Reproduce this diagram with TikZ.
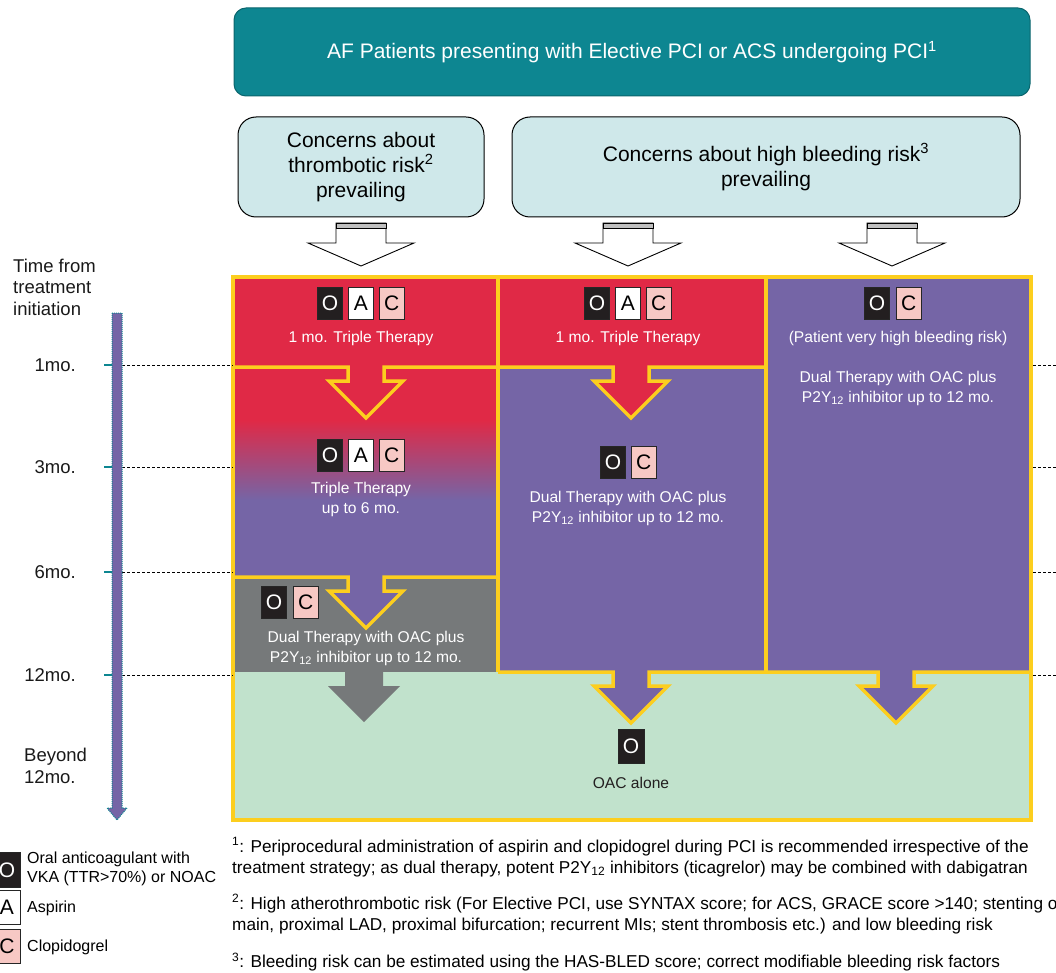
\documentclass[tikz,border=0pt]{standalone}
\usepackage{fontspec}
\setmainfont{Liberation Sans}
\usetikzlibrary{positioning}

\definecolor{afteal}{RGB}{13,134,145}
\definecolor{concernblue}{RGB}{207,232,234}
\definecolor{tripred}{RGB}{224,41,70}
\definecolor{dualpurple}{RGB}{117,101,166}
\definecolor{dualgray}{RGB}{118,121,122}
\definecolor{oacgreen}{RGB}{193,226,204}
\definecolor{frameyellow}{RGB}{252,206,30}
\definecolor{clopink}{RGB}{247,200,196}
\definecolor{oacblack}{RGB}{35,31,32}

\tikzset{%
  banner/.style = {rounded corners=12pt, draw=afteal!75!black, fill=afteal,
        line width=1pt, text=white, font=\fontsize{21}{25}\selectfont},
  concern/.style = {rounded corners=18pt, draw=black, fill=concernblue,
        line width=1pt, align=center, font=\fontsize{21}{25}\selectfont},
  drugbox/.style = {rectangle, draw=black!85, line width=0.8pt,
        minimum width=25pt, minimum height=32pt, inner sep=0pt,
        font=\fontsize{21}{21}\selectfont},
  oacbox/.style = {drugbox, fill=oacblack, text=white},
  aspbox/.style = {drugbox, fill=white, text=black},
  clobox/.style = {drugbox, fill=clopink, text=black},
  therapy/.style = {text=white, align=center, inner sep=0pt,
        font=\fontsize{15.6}{20}\selectfont},
  timetext/.style = {inner sep=0pt, text=black!90, font=\fontsize{18.5}{21.5}\selectfont},
  legendtext/.style = {inner sep=0pt, align=left, font=\fontsize{16}{18.5}\selectfont},
  foot/.style = {inner sep=0pt, align=left, font=\fontsize{17.2}{21}\selectfont},
  yline/.style = {draw=frameyellow, line width=3.5pt, line join=miter},
  guide/.style = {draw=black, line width=1pt, dash pattern=on 3pt off 2pt},
  hollow/.style = {draw=black, fill=white, line width=0.9pt}
}

% #1 y of line, #2 centre x, #3 left end, #4 right end, #5 colour of arrow
\newcommand{\yellownotch}[5]{%
  \fill[#5] (#2-18,#1-2) -- (#2-18,#1+14) -- (#2-37,#1+14) -- (#2,#1+51)
    -- (#2+37,#1+14) -- (#2+18,#1+14) -- (#2+18,#1-2) -- cycle;
  \draw[yline] (#3,#1) -- (#2-18,#1) -- (#2-18,#1+14) -- (#2-37,#1+14)
    -- (#2,#1+51) -- (#2+37,#1+14) -- (#2+18,#1+14) -- (#2+18,#1) -- (#4,#1);}

\begin{document}
\begin{tikzpicture}[x=1pt, y=-1pt]
\useasboundingbox (0,0) rectangle (1056,973);
\clip (0,0) rectangle (1056,973);

\node[banner, minimum width=796pt, minimum height=88pt] (head) at (632,52)
    {AF Patients presenting with Elective PCI or ACS undergoing PCI\textsuperscript{1}};
\node[concern, minimum width=246pt, minimum height=100pt] (thromb) at (361,167)
    {Concerns about\\thrombotic risk\textsuperscript{2}\\prevailing};
\node[concern, minimum width=508pt, minimum height=100pt] (bleed) at (766,167)
    {Concerns about high bleeding risk\textsuperscript{3}\\prevailing};

\foreach \cx in {361,628,892} {
  \draw[hollow] (\cx-25,223) -- (\cx+25,223) -- (\cx+25,243) -- (\cx+53,243)
      -- (\cx,266) -- (\cx-53,243) -- (\cx-25,243) -- cycle;
  \draw[hollow, fill=black!25] (\cx-25,223) rectangle (\cx+25,228);
}

% therapy blocks
\fill[tripred] (233,277) rectangle (498,420);
\shade[top color=tripred, bottom color=dualpurple] (233,420) rectangle (498,500);
\fill[dualpurple] (233,500) rectangle (498,577);
\fill[dualgray] (233,577) rectangle (498,672);
\fill[tripred] (498,277) rectangle (766,367);
\fill[dualpurple] (498,367) rectangle (766,672);
\fill[dualpurple] (766,277) rectangle (1031,672);
\fill[oacgreen] (233,672) rectangle (1031,820);

\yellownotch{367}{366}{233}{498}{tripred}
\yellownotch{577}{366}{233}{498}{dualpurple}
\yellownotch{367}{631}{498}{766}{tripred}
\fill[dualgray] (345,670) -- (345,686) -- (328,686) -- (364,722)
    -- (400,686) -- (383,686) -- (383,670) -- cycle;
\yellownotch{672}{631}{498}{766}{dualpurple}
\yellownotch{672}{896}{766}{1031}{dualpurple}
\draw[yline] (498,277) -- (498,672);
\draw[yline] (766,277) -- (766,672);
\draw[yline] (233,277) rectangle (1031,820);

% drugs and therapies
\node[oacbox] (o1) at (330,303) {O};
\node[aspbox, right=5pt of o1] (a1) {A};
\node[clobox, right=5pt of a1] (c1) {C};
\node[therapy] (tt1) at (361,338) {1 mo. Triple Therapy};

\node[oacbox] (o2) at (330,455) {O};
\node[aspbox, right=5pt of o2] (a2) {A};
\node[clobox, right=5pt of a2] (c2) {C};
\node[therapy] (tt2) at (361,499) {Triple Therapy\\up to 6 mo.};

\node[oacbox] (o3) at (274,602) {O};
\node[clobox, right=6pt of o3] (c3) {C};
\node[therapy] (dt3) at (366,648) {Dual Therapy with OAC plus\\P2Y\textsubscript{12} inhibitor up to 12 mo.};

\node[oacbox] (o4) at (597,303) {O};
\node[aspbox, right=5pt of o4] (a4) {A};
\node[clobox, right=5pt of a4] (c4) {C};
\node[therapy] (tt4) at (628,338) {1 mo. Triple Therapy};

\node[oacbox] (o5) at (613,462) {O};
\node[clobox, right=5pt of o5] (c5) {C};
\node[therapy] (dt5) at (628,508) {Dual Therapy with OAC plus\\P2Y\textsubscript{12} inhibitor up to 12 mo.};

\node[oacbox] (o6) at (877,303) {O};
\node[clobox, right=6pt of o6] (c6) {C};
\node[therapy] (vh6) at (898,338) {(Patient very high bleeding risk)};
\node[therapy] (dt6) at (898,388) {Dual Therapy with OAC plus\\P2Y\textsubscript{12} inhibitor up to 12 mo.};

\node[oacbox, minimum width=26pt, minimum height=34pt] (o7) at (631,746) {O};
\node[therapy, text=oacblack] (alone) at (631,783) {OAC alone};

% time line
\foreach \ty in {365,467,572,675} {
  \draw[afteal, line width=1.2pt] (104,\ty) -- (113,\ty);
  \draw[guide] (122,\ty) -- (233,\ty);
  \draw[guide] (1033,\ty) -- (1056,\ty);
}
\draw[densely dotted, draw=afteal, fill=dualpurple, line width=1pt]
    (112,313) -- (122,313) -- (122,808) -- (127,808) -- (117,820)
    -- (107,808) -- (112,808) -- cycle;
\node[timetext, align=left, anchor=west] (tfrom) at (13,287) {Time from\\treatment\\initiation};
\node[timetext, anchor=east] (m1) at (76,365) {1mo.};
\node[timetext, anchor=east] (m3) at (76,467) {3mo.};
\node[timetext, anchor=east] (m6) at (76,572) {6mo.};
\node[timetext, anchor=east] (m12) at (76,675) {12mo.};
\node[timetext, align=left, anchor=west] (beyond) at (24,766) {Beyond\\12mo.};

% legend
\node[oacbox, minimum width=26pt, minimum height=35pt] (lo) at (7,870) {O};
\node[aspbox, minimum width=26pt, minimum height=34pt] (la) at (7,907) {A};
\node[clobox, minimum width=26pt, minimum height=34pt] (lc) at (7,946) {C};
\node[legendtext, anchor=west] (lotext) at (27,869) {Oral anticoagulant with\\VKA (TTR>70\%) or NOAC};
\node[legendtext, anchor=west] (latext) at (27,908) {Aspirin};
\node[legendtext, anchor=west] (lctext) at (27,947) {Clopidogrel};

% footnotes
\node[foot, anchor=west] (fn1) at (232,857) {\textsuperscript{1}: Periprocedural administration of aspirin and clopidogrel during PCI is recommended irrespective of the\\treatment strategy; as dual therapy, potent P2Y\textsubscript{12} inhibitors (ticagrelor) may be combined with dabigatran};
\node[foot, anchor=west] (fn2) at (232,914) {\textsuperscript{2}: High atherothrombotic risk (For Elective PCI, use SYNTAX score; for ACS, GRACE score >140; stenting of left\\main, proximal LAD, proximal bifurcation; recurrent MIs; stent thrombosis etc.) and low bleeding risk};
\node[foot, anchor=west] (fn3) at (232,962) {\textsuperscript{3}: Bleeding risk can be estimated using the HAS-BLED score; correct modifiable bleeding risk factors};
\end{tikzpicture}
\end{document}
